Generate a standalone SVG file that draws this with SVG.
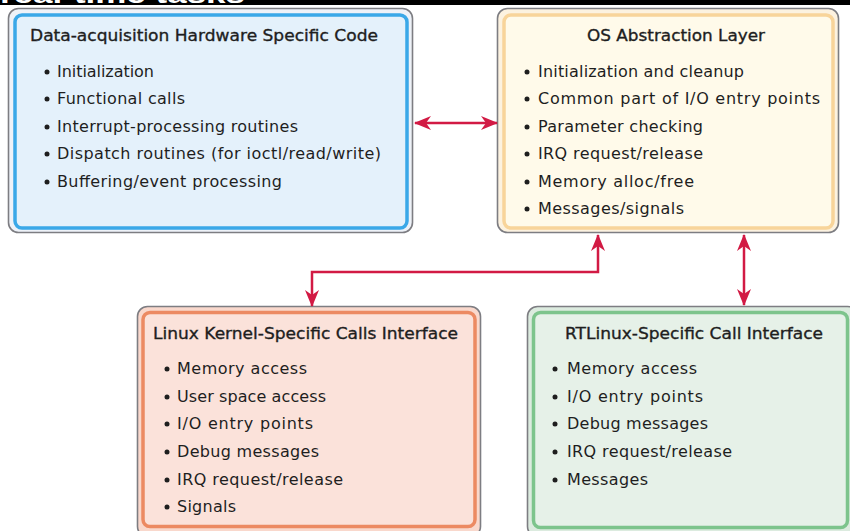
<svg xmlns="http://www.w3.org/2000/svg" width="850" height="531" viewBox="0 0 850 531">
<style>
.outer{stroke:#7d7d82;stroke-width:1.6}
.t{font-family:"DejaVu Sans",sans-serif;font-size:16px;fill:#1e1e1e}
.title{font-family:"DejaVu Sans",sans-serif;font-size:16px;fill:#1e1e1e;stroke:#1e1e1e;stroke-width:0.35}
.b{fill:#1e1e1e}
.conn{fill:none;stroke:#d21a44;stroke-width:2.5}
</style>
<defs>
<marker id="ah" viewBox="0 0 17 14" markerWidth="17" markerHeight="14" refX="16" refY="7" orient="auto-start-reverse" markerUnits="userSpaceOnUse">
<path d="M0,0 L17,7 L0,14 L5,7 Z" fill="#d21a44"/>
</marker>
</defs>
<rect x="0" y="0" width="850" height="5" fill="#000"/>
<text x="0" y="3" font-family="Liberation Sans, sans-serif" font-size="26" font-weight="bold" fill="#fff" textLength="245" lengthAdjust="spacingAndGlyphs">real-time tasks</text>
<rect x="0" y="5" width="850" height="3" fill="#fff"/>

<g id="hw-code">
<rect class="outer" x="8.5" y="8.5" width="404" height="224" rx="10" fill="#eef2f8"/>
<rect x="15" y="15" width="392" height="213" rx="7" fill="#e4f1fb" stroke="#3aa8e8" stroke-width="3.5"/>
<text class="title" x="30" y="41" textLength="348" lengthAdjust="spacingAndGlyphs">Data-acquisition Hardware Specific Code</text>
<circle class="b" cx="47" cy="72" r="2.5"/><text class="t" x="57" y="77" textLength="97">Initialization</text>
<circle class="b" cx="47" cy="99" r="2.5"/><text class="t" x="57" y="104" textLength="128">Functional calls</text>
<circle class="b" cx="47" cy="127" r="2.5"/><text class="t" x="57" y="132" textLength="241">Interrupt-processing routines</text>
<circle class="b" cx="47" cy="154" r="2.5"/><text class="t" x="57" y="159" textLength="324">Dispatch routines (for ioctl/read/write)</text>
<circle class="b" cx="47" cy="182" r="2.5"/><text class="t" x="57" y="187" textLength="225">Buffering/event processing</text>
</g>

<g id="os-layer">
<rect class="outer" x="497.5" y="8.5" width="341" height="224" rx="10" fill="#fcf2e0"/>
<rect x="504" y="15" width="329" height="213" rx="7" fill="#fffaea" stroke="#f8d49a" stroke-width="3.5"/>
<text class="title" x="587" y="41" textLength="178" lengthAdjust="spacingAndGlyphs">OS Abstraction Layer</text>
<circle class="b" cx="527" cy="72" r="2.5"/><text class="t" x="538" y="77" textLength="206">Initialization and cleanup</text>
<circle class="b" cx="527" cy="99" r="2.5"/><text class="t" x="538" y="104" textLength="282">Common part of I/O entry points</text>
<circle class="b" cx="527" cy="127" r="2.5"/><text class="t" x="538" y="132" textLength="165">Parameter checking</text>
<circle class="b" cx="527" cy="154" r="2.5"/><text class="t" x="538" y="159" textLength="165">IRQ request/release</text>
<circle class="b" cx="527" cy="182" r="2.5"/><text class="t" x="538" y="187" textLength="156">Memory alloc/free</text>
<circle class="b" cx="527" cy="209" r="2.5"/><text class="t" x="538" y="214" textLength="146">Messages/signals</text>
</g>

<g id="linux-kernel">
<rect class="outer" x="137.5" y="306.5" width="343" height="230" rx="10" fill="#f9d8cc"/>
<rect x="143" y="312.5" width="332" height="214" rx="7" fill="#fbe2da" stroke="#ec8a62" stroke-width="3.5"/>
<text class="title" x="153" y="339" textLength="305" lengthAdjust="spacingAndGlyphs">Linux Kernel-Specific Calls Interface</text>
<circle class="b" cx="167" cy="369" r="2.5"/><text class="t" x="177" y="374" textLength="130">Memory access</text>
<circle class="b" cx="167" cy="397" r="2.5"/><text class="t" x="177" y="402" textLength="149">User space access</text>
<circle class="b" cx="167" cy="424" r="2.5"/><text class="t" x="177" y="429" textLength="136">I/O entry points</text>
<circle class="b" cx="167" cy="452" r="2.5"/><text class="t" x="177" y="457" textLength="142">Debug messages</text>
<circle class="b" cx="167" cy="480" r="2.5"/><text class="t" x="177" y="485" textLength="166">IRQ request/release</text>
<circle class="b" cx="167" cy="507" r="2.5"/><text class="t" x="177" y="512" textLength="59">Signals</text>
</g>

<g id="rtlinux">
<rect class="outer" x="527.5" y="306.5" width="330" height="230" rx="10" fill="#dcebdf"/>
<rect x="533.5" y="312.5" width="314" height="215" rx="7" fill="#e6f1e8" stroke="#7dc48c" stroke-width="3.5"/>
<text class="title" x="565" y="339" textLength="258" lengthAdjust="spacingAndGlyphs">RTLinux-Specific Call Interface</text>
<circle class="b" cx="555" cy="369" r="2.5"/><text class="t" x="567" y="374" textLength="130">Memory access</text>
<circle class="b" cx="555" cy="397" r="2.5"/><text class="t" x="567" y="402" textLength="136">I/O entry points</text>
<circle class="b" cx="555" cy="424" r="2.5"/><text class="t" x="567" y="429" textLength="141">Debug messages</text>
<circle class="b" cx="555" cy="452" r="2.5"/><text class="t" x="567" y="457" textLength="165">IRQ request/release</text>
<circle class="b" cx="555" cy="480" r="2.5"/><text class="t" x="567" y="485" textLength="81">Messages</text>
</g>

<g id="connectors">
<path class="conn" d="M415,123 H497" marker-start="url(#ah)" marker-end="url(#ah)"/>
<path class="conn" d="M598,235 V272 H312 V306" marker-start="url(#ah)" marker-end="url(#ah)"/>
<path class="conn" d="M744,235 V305" marker-start="url(#ah)" marker-end="url(#ah)"/>
</g>
</svg>
